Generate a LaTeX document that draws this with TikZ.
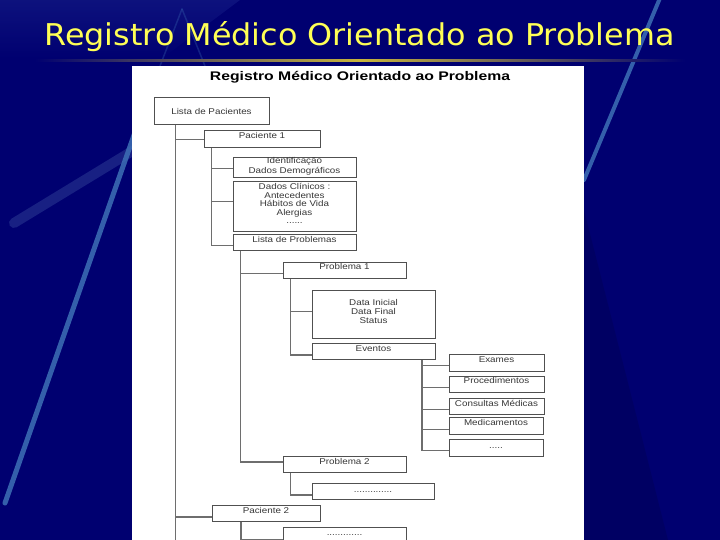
\documentclass[tikz,border=0pt]{standalone}
\usepackage{fontspec}
\setmainfont{Liberation Sans}
\newfontfamily\titlefont[FakeStretch=1.06]{DejaVu Sans}
\newfontfamily\headfont[FakeStretch=1.26]{Liberation Sans}
\newfontfamily\boxfont[FakeStretch=1.17]{Liberation Sans}
\usetikzlibrary{calc}
\definecolor{bgc}{RGB}{0,0,112}
\definecolor{bgdark}{RGB}{0,0,88}
\definecolor{bglight}{RGB}{22,30,135}
\definecolor{streak}{RGB}{62,112,182}
\definecolor{streakb}{RGB}{60,80,160}
\definecolor{gold}{RGB}{200,180,60}
\definecolor{ttl}{RGB}{255,255,85}
\definecolor{boxc}{RGB}{80,80,80}
\definecolor{linec}{RGB}{110,110,110}
\definecolor{txtc}{RGB}{55,55,55}
\begin{document}
\begin{tikzpicture}[x=1pt,y=-1pt,
  bx/.style={draw=boxc, line width=1.3pt, fill=white, anchor=north west, inner sep=0pt},
  tx/.style={anchor=base, inner sep=0pt, text=txtc, font=\boxfont\fontsize{8.4}{9}\selectfont},
  ln/.style={draw=linec, line width=1.3pt},
  stk/.style={line cap=round, draw=streak}]
\useasboundingbox (0,0) rectangle (720,540);
% background
\fill[bgc] (0,0) rectangle (720,540);
\shade[top color=bglight, bottom color=bgc, opacity=0.6] (0,0) -- (240,0) -- (160,60) -- (0,60) -- cycle;
\fill[bgdark, opacity=0.5] (584,210) -- (668,540) -- (584,540) -- cycle;
\draw[line cap=round, draw=streakb, line width=10pt, opacity=0.4] (14,223) -- (134,150);
\draw[stk, line width=5pt, opacity=0.85] (5,503) -- (140,118);
\draw[stk, line width=1.5pt, opacity=0.3] (182,9) -- (160,66);
\draw[stk, line width=1.5pt, opacity=0.3] (182,9) -- (205,66);
\draw[stk, line width=4pt, opacity=0.85] (660,-2) -- (584,180);
% title
\node[anchor=base, text=ttl, inner sep=0pt, font=\titlefont\fontsize{30}{32}\selectfont] (title) at (359.5,46) {Registro Médico Orientado ao Problema};
\shade[left color=bgc, right color=bgc, middle color=gold] (35,59.5) rectangle (685,62);
% panel
\fill[white] (132,66) rectangle (584,545);
\node[anchor=base, inner sep=0pt, text=black, font=\headfont\bfseries\fontsize{12.5}{14}\selectfont] (head) at (360,81) {Registro Médico Orientado ao Problema};
% boxes
\node[bx, minimum width=115pt, minimum height=27pt] (LP) at (154,97) {};
\node[bx, minimum width=116pt, minimum height=17pt] (P1) at (204,130) {};
\node[bx, minimum width=123pt, minimum height=20pt] (ID) at (233,157) {};
\node[bx, minimum width=123pt, minimum height=50pt] (DC) at (233,181) {};
\node[bx, minimum width=123pt, minimum height=16pt] (LPr) at (233,234) {};
\node[bx, minimum width=123pt, minimum height=16pt] (Pr1) at (283,262) {};
\node[bx, minimum width=123pt, minimum height=48pt] (DT) at (312,290) {};
\node[bx, minimum width=123pt, minimum height=16pt] (EV) at (312,343) {};
\node[bx, minimum width=95pt, minimum height=17pt] (EX) at (449,354) {};
\node[bx, minimum width=95pt, minimum height=16pt] (PR) at (449,376) {};
\node[bx, minimum width=95pt, minimum height=16pt] (CM) at (449,398) {};
\node[bx, minimum width=94pt, minimum height=17pt] (ME) at (449,417) {};
\node[bx, minimum width=94pt, minimum height=17pt] (DO) at (449,439) {};
\node[bx, minimum width=123pt, minimum height=16pt] (Pr2) at (283,456) {};
\node[bx, minimum width=122pt, minimum height=16pt] (P2c) at (312,483) {};
\node[bx, minimum width=108pt, minimum height=16pt] (P2) at (212,505) {};
\node[bx, minimum width=123pt, minimum height=20pt] (P2d) at (283,527) {};
% trunk tops
\coordinate (t0) at ([xshift=21.7pt]LP.south west);
\coordinate (t1) at ([xshift=7.7pt]P1.south west);
\coordinate (t2) at ([xshift=7.7pt]LPr.south west);
\coordinate (t3) at ([xshift=7.7pt]Pr1.south west);
\coordinate (t4) at ([xshift=-14.3pt]EV.south east);
\coordinate (t5) at ([xshift=7.7pt]Pr2.south west);
\coordinate (t6) at ([xshift=29pt]P2.south west);
\coordinate (bot) at (175.7,545);
% connectors
\draw[ln] (t0) -- (bot);
\draw[ln] (t0) |- ($(P1.west)+(0,0.5)$);
\draw[ln] (t0) |- ($(P2.west)+(0,3.3)$);
\draw[ln] (t1) |- ($(ID.west)+(0,0.7)$);
\draw[ln] (t1) |- ($(DC.west)+(0,-5)$);
\draw[ln] (t1) |- ($(LPr.west)+(0,3)$);
\draw[ln] (t2) |- ($(Pr1.west)+(0,3)$);
\draw[ln] (t2) |- ($(Pr2.west)+(0,-2.7)$);
\draw[ln] (t3) |- ($(DT.west)+(0,-3)$);
\draw[ln] (t3) |- ($(EV.west)+(0,3.3)$);
\draw[ln] (t4) |- ($(EX.west)+(0,2.5)$);
\draw[ln] (t4) |- ($(PR.west)+(0,2.7)$);
\draw[ln] (t4) |- ($(CM.west)+(0,3)$);
\draw[ln] (t4) |- ($(ME.west)+(0,3.5)$);
\draw[ln] (t4) |- ($(DO.west)+(0,2.5)$);
\draw[ln] (t5) |- ($(P2c.west)+(0,3.3)$);
\draw[ln] (t6) |- ($(P2d.west)+(0,2.3)$);
% texts
\node[tx] (LPt) at (211.5,114.5) {Lista de Pacientes};
\node[tx] (P1t) at (262,139) {Paciente 1};
\node[tx] (IDt1) at (294.5,164) {Identificação};
\node[tx] (IDt2) at (294.5,173.7) {Dados Demográficos};
\node[tx] (DCt1) at (294.5,189.7) {Dados Clínicos :};
\node[tx] (DCt2) at (294.5,198.3) {Antecedentes};
\node[tx] (DCt3) at (294.5,207) {Hábitos de Vida};
\node[tx] (DCt4) at (294.5,215.3) {Alergias};
\node[tx] (DCt5) at (294.5,224) {......};
\node[tx] (LPrt) at (294.5,242) {Lista de Problemas};
\node[tx] (Pr1t) at (344.5,269.3) {Problema 1};
\node[tx] (DTt1) at (373.5,305.7) {Data Inicial};
\node[tx] (DTt2) at (373.5,314.3) {Data Final};
\node[tx] (DTt3) at (373.5,323) {Status};
\node[tx] (EVt) at (373.5,351) {Eventos};
\node[tx] (EXt) at (496.5,362.3) {Exames};
\node[tx] (PRt) at (496.5,383.3) {Procedimentos};
\node[tx] (CMt) at (496.5,406.3) {Consultas Médicas};
\node[tx] (MEt) at (496,425) {Medicamentos};
\node[tx] (DOt) at (496,448.3) {.....};
\node[tx] (Pr2t) at (344.5,464) {Problema 2};
\node[tx] (P2ct) at (373,492.7) {..............};
\node[tx] (P2t) at (266,513.3) {Paciente 2};
\node[tx] (P2dt) at (344.5,535.7) {.............};
\end{tikzpicture}
\end{document}
